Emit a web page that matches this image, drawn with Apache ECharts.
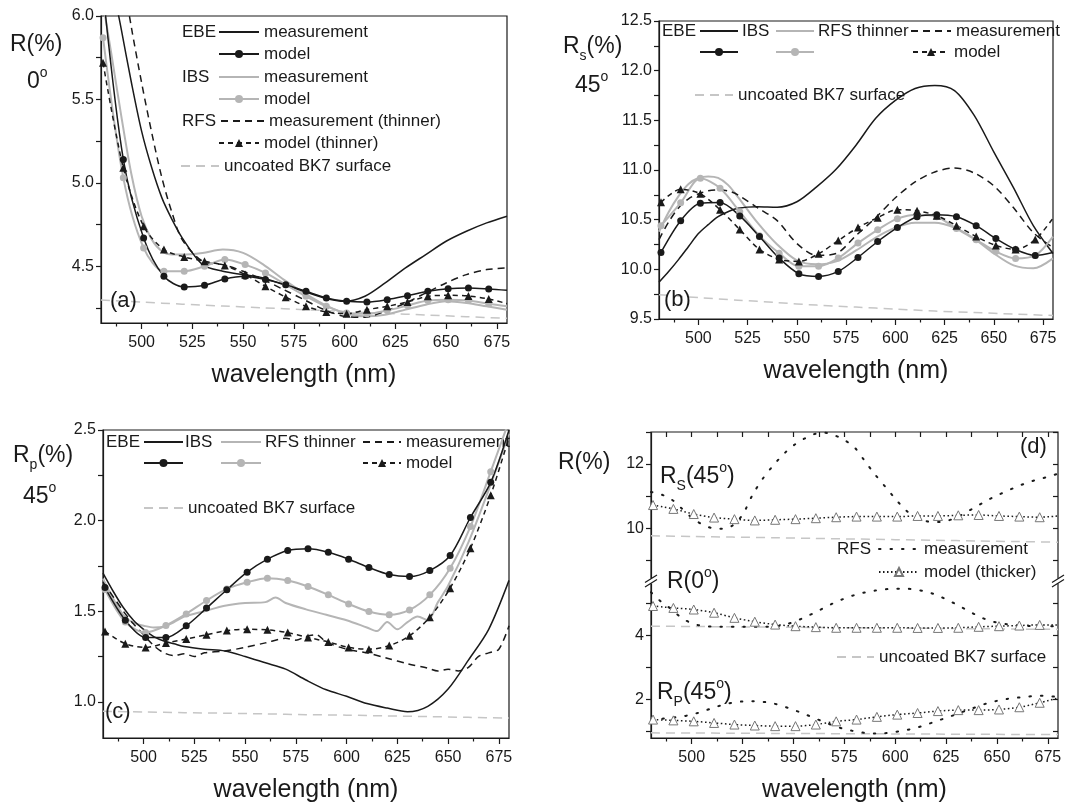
<!DOCTYPE html>
<html>
<head>
<meta charset="utf-8">
<script src="https://cdn.jsdelivr.net/npm/echarts@6/dist/echarts.min.js"></script>
<style>
  html, body { margin: 0; background: #fff; }
  #chart { width: 1079px; height: 806px; }
</style>
</head>
<body>
<div id="chart"></div>
<script>
// ---- wavelength grids (nm) ----
const wlA = [480,485,490,495,500,505,510,515,520,530,540,550,560,570,580,590,600,610,620,630,640,650,660,670,680];
const wlModel = [481,491,501,511,521,531,541,551,561,571,581,591,601,611,621,631,641,651,661,671,680];
const wlBK = [480,500,520,540,560,580,600,620,640,660,680];
const wlIbsC = [480,485,490,495,500,505,510,515,520,530,540,550,560,565,570,580,590,600,610,615,620,625,630,635,640,645,650,660,670,680];
const wlRfsC = [480,485,490,495,500,505,510,515,520,525,530,540,550,560,570,575,580,585,590,600,610,620,630,640,645,650,655,660,665,670,675,680];
const wlD = [480,485,490,495,500,505,510,515,520,525,530,535,540,545,550,555,560,565,570,575,580,585,590,595,600,605,610,615,620,625,630,635,640,645,650,655,660,665,670,675,680];

// ---- (a) R(%) at 0 deg ----
const ebeMeasA = [6.9,6.25,5.92,5.6,5.31,5.09,4.91,4.78,4.67,4.51,4.47,4.45,4.43,4.39,4.35,4.31,4.29,4.32,4.40,4.49,4.57,4.65,4.71,4.76,4.80];
const ibsMeasA = [6.15,5.78,5.4,5.05,4.8,4.66,4.59,4.57,4.57,4.58,4.60,4.58,4.51,4.42,4.34,4.27,4.22,4.20,4.21,4.24,4.27,4.29,4.28,4.26,4.24];
const rfsMeasA = [7.5,6.8,6.3,5.93,5.6,5.3,5.03,4.82,4.66,4.53,4.51,4.47,4.42,4.36,4.30,4.24,4.20,4.195,4.23,4.28,4.34,4.40,4.45,4.48,4.49];
const ebeModelA = [6.15,5.14,4.67,4.44,4.376,4.386,4.424,4.44,4.42,4.39,4.35,4.31,4.29,4.286,4.30,4.324,4.35,4.366,4.37,4.364,4.356];
const ibsModelA = [5.87,5.03,4.61,4.47,4.47,4.50,4.54,4.51,4.46,4.39,4.32,4.26,4.22,4.215,4.235,4.265,4.295,4.30,4.295,4.275,4.26];
const rfsModelA = [5.72,5.09,4.74,4.60,4.556,4.53,4.505,4.45,4.38,4.315,4.26,4.226,4.216,4.24,4.26,4.286,4.32,4.326,4.322,4.304,4.276];
const bk7A = [4.298,4.285,4.273,4.262,4.251,4.24,4.229,4.218,4.208,4.198,4.188];

// ---- (b) Rs(%) at 45 deg ----
const ebeMeasB = [9.87,9.98,10.10,10.23,10.36,10.45,10.53,10.58,10.615,10.63,10.625,10.68,10.83,11.01,11.25,11.52,11.70,11.82,11.85,11.80,11.55,11.18,10.82,10.44,10.16];
const ibsMeasB = [10.38,10.58,10.74,10.86,10.92,10.935,10.92,10.85,10.73,10.47,10.25,10.09,10.05,10.08,10.19,10.32,10.42,10.47,10.47,10.42,10.31,10.16,10.04,10.01,10.11];
const rfsMeasB = [10.30,10.48,10.62,10.71,10.76,10.79,10.80,10.79,10.75,10.62,10.49,10.26,10.14,10.16,10.34,10.52,10.72,10.88,10.98,11.02,10.97,10.84,10.62,10.37,10.22];
const ebeModelB = [10.17,10.49,10.665,10.672,10.538,10.33,10.113,9.956,9.929,9.979,10.12,10.28,10.42,10.53,10.55,10.53,10.44,10.31,10.20,10.14,10.17];
const ibsModelB = [10.44,10.67,10.916,10.816,10.58,10.337,10.163,10.03,10.03,10.113,10.264,10.398,10.51,10.55,10.53,10.41,10.297,10.18,10.11,10.14,10.33];
const rfsModelB = [10.675,10.806,10.76,10.60,10.40,10.20,10.10,10.08,10.157,10.29,10.42,10.52,10.60,10.59,10.54,10.44,10.33,10.24,10.20,10.30,10.515];
const bk7B = [9.745,9.715,9.69,9.665,9.64,9.62,9.60,9.58,9.565,9.55,9.535];

// ---- (c) Rp(%) at 45 deg ----
const ebeMeasC = [1.71,1.61,1.52,1.45,1.40,1.36,1.335,1.32,1.305,1.29,1.28,1.25,1.215,1.18,1.12,1.066,1.03,0.99,0.965,0.945,0.975,1.07,1.23,1.40,1.67];
const ibsMeasC = [1.68,1.57,1.48,1.435,1.42,1.41,1.415,1.44,1.47,1.50,1.53,1.545,1.55,1.575,1.545,1.51,1.48,1.45,1.41,1.39,1.44,1.40,1.44,1.47,1.45,1.55,1.64,1.88,2.17,2.48];
const rfsMeasC = [1.66,1.58,1.50,1.43,1.37,1.31,1.27,1.255,1.265,1.25,1.27,1.28,1.30,1.325,1.35,1.34,1.36,1.37,1.33,1.29,1.27,1.24,1.21,1.185,1.17,1.18,1.17,1.19,1.25,1.27,1.29,1.42];
const ebeModelC = [1.63,1.45,1.355,1.355,1.419,1.517,1.618,1.715,1.787,1.835,1.844,1.825,1.787,1.741,1.702,1.691,1.724,1.807,2.017,2.211,2.5];
const ibsModelC = [1.62,1.44,1.382,1.421,1.485,1.559,1.623,1.66,1.682,1.669,1.636,1.59,1.54,1.498,1.48,1.507,1.59,1.737,1.967,2.27,2.55];
const rfsModelC = [1.388,1.32,1.30,1.324,1.346,1.37,1.393,1.40,1.397,1.382,1.355,1.33,1.30,1.29,1.31,1.364,1.467,1.627,1.847,2.14,2.46];
const bk7C = [0.947,0.944,0.940,0.937,0.933,0.929,0.926,0.922,0.918,0.914,0.910];

// ---- (d) RFS thicker ----
const rsMeasD = [11.13,11.05,10.9,10.62,10.33,10.12,10.0,9.98,10.08,10.42,11.05,11.55,11.95,12.3,12.58,12.78,12.93,12.98,12.9,12.75,12.52,12.1,11.68,11.3,10.92,10.57,10.33,10.22,10.19,10.22,10.33,10.5,10.68,10.86,11.02,11.16,11.3,11.42,11.52,11.6,11.7];
const r0MeasD = [5.35,5.05,4.82,4.55,4.38,4.30,4.28,4.27,4.27,4.27,4.27,4.27,4.28,4.32,4.42,4.55,4.70,4.86,5.02,5.15,5.26,5.34,5.40,5.44,5.46,5.46,5.43,5.37,5.27,5.13,4.97,4.80,4.63,4.49,4.40,4.35,4.32,4.30,4.29,4.29,4.29];
const rpMeasD = [1.37,1.40,1.43,1.47,1.53,1.62,1.73,1.83,1.90,1.94,1.95,1.93,1.88,1.79,1.68,1.56,1.43,1.30,1.18,1.08,1.01,0.96,0.94,0.95,0.99,1.04,1.11,1.21,1.32,1.43,1.54,1.66,1.77,1.88,1.96,2.02,2.06,2.09,2.12,2.11,2.08];
const rsModelD = [10.72,10.6,10.44,10.33,10.28,10.24,10.26,10.28,10.31,10.34,10.36,10.36,10.36,10.38,10.38,10.40,10.41,10.38,10.36,10.34,10.38];
const r0ModelD = [4.92,4.86,4.81,4.71,4.55,4.43,4.34,4.29,4.26,4.24,4.24,4.24,4.24,4.235,4.235,4.24,4.27,4.29,4.31,4.33,4.33];
const rpModelD = [1.375,1.35,1.32,1.27,1.22,1.19,1.17,1.17,1.22,1.32,1.375,1.46,1.53,1.58,1.64,1.67,1.67,1.69,1.76,1.90,2.05];
const bk7RsD = [9.76,9.74,9.72,9.70,9.68,9.66,9.64,9.62,9.60,9.58,9.56];
const bk7R0D = [4.29,4.28,4.27,4.26,4.25,4.24,4.23,4.22,4.21,4.20,4.19];
const bk7RpD = [0.96,0.955,0.95,0.944,0.939,0.933,0.928,0.922,0.917,0.911,0.906];

// ---- ticks ----
const xMajors = [500,525,550,575,600,625,650,675];
const xMinors = [487.5,512.5,537.5,562.5,587.5,612.5,637.5,662.5];
const yLabelsA = [4.5,5.0,5.5,6.0];
const yTicksA = [4.25,4.5,4.75,5.0,5.25,5.5,5.75,6.0];
const yLabelsB = [9.5,10.0,10.5,11.0,11.5,12.0,12.5];
const yTicksB = [9.5,9.75,10,10.25,10.5,10.75,11,11.25,11.5,11.75,12,12.25,12.5];
const yLabelsC = [1.0,1.5,2.0,2.5];
const yTicksC = [1.0,1.25,1.5,1.75,2.0,2.25,2.5];
const yLabelsD = [2,4,10,12];
const yTicksD = [1,2,3,4,5,9,10,11,12,13];

const FONT = "'Liberation Sans', Arial, Helvetica, sans-serif";
const INK = '#1a1a1a';
const GRAY = '#b5b5b5';
const BKC = '#c6c6c6';

const styles = {
  'EBE measurement': { color: INK, lineStyle: { width: 1.5 }, symbol: 'none' },
  'EBE model': { color: INK, lineStyle: { width: 1.5 }, symbol: 'circle', symbolSize: 7 },
  'IBS measurement': { color: GRAY, lineStyle: { width: 2 }, symbol: 'none' },
  'IBS model': { color: GRAY, lineStyle: { width: 2 }, symbol: 'circle', symbolSize: 7 },
  'RFS measurement': { color: INK, lineStyle: { width: 1.5, type: [7, 5] }, symbol: 'none' },
  'RFS model': { color: INK, lineStyle: { width: 1.5, type: [5, 4] }, symbol: 'triangle', symbolSize: 8 },
  'uncoated BK7 surface': { color: BKC, lineStyle: { width: 1.5, type: [9, 6] }, symbol: 'none' },
  'RFS measurement (thicker)': { color: INK, lineStyle: { width: 2, type: [1.5, 10], cap: 'round' }, symbol: 'none' },
  'RFS model (thicker)': { color: INK, lineStyle: { width: 1.5, type: [1.5, 2.5] }, symbol: 'triangle', symbolSize: 9,
    itemStyle: { color: '#fff', borderColor: '#777', borderWidth: 1 } }
};

function line(name, g, xs, ys, isModel) {
  const s = styles[name];
  const data = xs.map((x, i) => (isModel && i === xs.length - 1) ? { value: [x, ys[i]], symbol: 'none' } : [x, ys[i]]);
  return {
    type: 'line', name, xAxisIndex: g * 2, yAxisIndex: g, data,
    smooth: 0.3, silent: true,
    symbol: s.symbol, symbolSize: s.symbolSize, showSymbol: s.symbol !== 'none',
    lineStyle: Object.assign({ color: s.color }, s.lineStyle),
    itemStyle: Object.assign({ color: s.color }, s.itemStyle || {}),
    z: isModel ? 4 : (s.color === INK ? 3 : 2)
  };
}

function leg(name, text, left, cy, w) {
  const s = styles[name];
  return {
    data: [name], left, top: cy - 9, itemWidth: w, itemHeight: 10, padding: 0,
    selectedMode: false, formatter: () => text,
    itemStyle: s.symbol === 'none' ? { opacity: 0 } : {},
    textStyle: { fontSize: 17, color: INK, fontFamily: FONT, lineHeight: 18 }
  };
}

const RICH = {
  sub: { fontSize: 14, fontFamily: FONT, fill: INK, verticalAlign: 'bottom', lineHeight: 14 },
  sup: { fontSize: 14, fontFamily: FONT, fill: INK, verticalAlign: 'top', lineHeight: 14 }
};
function txt(text, x, cy, size) {
  return {
    type: 'text', x, y: cy, z: 50,
    style: { text, fontSize: size, fontFamily: FONT, fill: INK, align: 'left', verticalAlign: 'middle', lineHeight: 32, rich: RICH }
  };
}

const grids = [
  { left: 101, top: 16, width: 406, height: 307 },
  { left: 659, top: 21, width: 394, height: 298 },
  { left: 103, top: 430, width: 406, height: 308 },
  { left: 651, top: 432, width: 407, height: 306 }
].map(g => Object.assign({ show: true, borderColor: INK, borderWidth: 1.2, backgroundColor: 'transparent' }, g));

const axisLineStyle = { color: INK, width: 1.2 };
const xAxis = [];
grids.forEach((gr, g) => {
  xAxis.push({
    gridIndex: g, type: 'value', min: 480, max: 680, position: 'bottom',
    name: 'wavelength (nm)', nameLocation: 'middle', nameGap: 40,
    nameTextStyle: { fontSize: 25, fontFamily: FONT, color: INK },
    axisLine: { onZero: false, lineStyle: axisLineStyle },
    axisTick: { customValues: xMajors, length: 6, lineStyle: axisLineStyle },
    axisLabel: { customValues: xMajors, fontSize: 16, color: INK, fontFamily: FONT, margin: 12 },
    splitLine: { show: false }
  });
  xAxis.push({
    gridIndex: g, type: 'value', min: 480, max: 680, position: 'bottom',
    axisLine: { show: false, onZero: false },
    axisTick: { customValues: xMinors, length: 3.5, lineStyle: axisLineStyle },
    axisLabel: { show: false }, splitLine: { show: false }
  });
});
// top ticks for panel (d)
xAxis.push({
  gridIndex: 3, type: 'value', min: 480, max: 680, position: 'top',
  axisLine: { show: false, onZero: false },
  axisTick: { inside: true, customValues: xMinors.concat(xMajors), length: 5, lineStyle: axisLineStyle },
  axisLabel: { show: false }, splitLine: { show: false }
});

function yAx(g, min, max, labels, ticks, dec, extra) {
  return Object.assign({
    gridIndex: g, type: 'value', min, max,
    axisLine: { show: true, onZero: false, lineStyle: axisLineStyle },
    axisTick: { show: true, customValues: ticks, length: 5, lineStyle: axisLineStyle },
    axisLabel: { customValues: labels, fontSize: 16, color: INK, fontFamily: FONT, margin: 7,
      formatter: v => v.toFixed(dec) },
    splitLine: { show: false }
  }, extra || {});
}
const dBreaks = [{ start: 5.7, end: 8.35, gap: 0 }];
const yAxis = [
  yAx(0, 4.16, 6.0, yLabelsA, yTicksA, 1),
  yAx(1, 9.5, 12.5, yLabelsB, yTicksB, 1),
  yAx(2, 0.8, 2.5, yLabelsC, yTicksC, 1),
  yAx(3, 0.8, 13, yLabelsD, yTicksD, 0, { breaks: dBreaks, breakArea: { show: false } }),
  {
    gridIndex: 3, type: 'value', min: 0.8, max: 13, position: 'right',
    breaks: dBreaks, breakArea: { show: false },
    axisLine: { show: false }, axisLabel: { show: false }, splitLine: { show: false },
    axisTick: { show: true, inside: true, customValues: yTicksD, length: 5, lineStyle: axisLineStyle }
  }
];

const series = [
  // (a)
  line('uncoated BK7 surface', 0, wlBK, bk7A),
  line('IBS measurement', 0, wlA, ibsMeasA),
  line('IBS model', 0, wlModel, ibsModelA, true),
  line('EBE measurement', 0, wlA, ebeMeasA),
  line('RFS measurement', 0, wlA, rfsMeasA),
  line('EBE model', 0, wlModel, ebeModelA, true),
  line('RFS model', 0, wlModel, rfsModelA, true),
  // (b)
  line('uncoated BK7 surface', 1, wlBK, bk7B),
  line('IBS measurement', 1, wlA, ibsMeasB),
  line('IBS model', 1, wlModel, ibsModelB, true),
  line('EBE measurement', 1, wlA, ebeMeasB),
  line('RFS measurement', 1, wlA, rfsMeasB),
  line('EBE model', 1, wlModel, ebeModelB, true),
  line('RFS model', 1, wlModel, rfsModelB, true),
  // (c)
  line('uncoated BK7 surface', 2, wlBK, bk7C),
  line('IBS measurement', 2, wlIbsC, ibsMeasC),
  line('IBS model', 2, wlModel, ibsModelC, true),
  line('EBE measurement', 2, wlA, ebeMeasC),
  line('RFS measurement', 2, wlRfsC, rfsMeasC),
  line('EBE model', 2, wlModel, ebeModelC, true),
  line('RFS model', 2, wlModel, rfsModelC, true),
  // (d)
  line('uncoated BK7 surface', 3, wlBK, bk7RsD),
  line('uncoated BK7 surface', 3, wlBK, bk7R0D),
  line('uncoated BK7 surface', 3, wlBK, bk7RpD),
  line('RFS measurement (thicker)', 3, wlD, rsMeasD),
  line('RFS measurement (thicker)', 3, wlD, r0MeasD),
  line('RFS measurement (thicker)', 3, wlD, rpMeasD),
  line('RFS model (thicker)', 3, wlModel, rsModelD, true),
  line('RFS model (thicker)', 3, wlModel, r0ModelD, true),
  line('RFS model (thicker)', 3, wlModel, rpModelD, true)
];

const legend = [
  // (a)
  leg('EBE measurement', 'measurement', 218, 32, 40),
  leg('EBE model', 'model', 218, 54, 40),
  leg('IBS measurement', 'measurement', 218, 77, 40),
  leg('IBS model', 'model', 218, 99, 40),
  leg('RFS measurement', 'measurement (thinner)', 220, 121, 43),
  leg('RFS model', 'model (thinner)', 218, 143, 40),
  leg('uncoated BK7 surface', 'uncoated BK7 surface', 180, 166, 38),
  // (b)
  leg('EBE measurement', ' ', 699, 31, 38),
  leg('IBS measurement', ' ', 775, 31, 38),
  leg('RFS measurement', 'measurement', 910, 31, 40),
  leg('EBE model', ' ', 699, 52, 38),
  leg('IBS model', ' ', 775, 52, 38),
  leg('RFS model', 'model', 912, 52, 36),
  leg('uncoated BK7 surface', 'uncoated BK7 surface', 694, 95, 38),
  // (c)
  leg('EBE measurement', ' ', 143, 442, 39),
  leg('IBS measurement', ' ', 220, 442, 40),
  leg('RFS measurement', 'measurement', 362, 442, 38),
  leg('EBE model', ' ', 143, 463, 39),
  leg('IBS model', ' ', 220, 463, 40),
  leg('RFS model', 'model', 362, 463, 38),
  leg('uncoated BK7 surface', 'uncoated BK7 surface', 143, 508, 39),
  // (d)
  leg('RFS measurement (thicker)', 'measurement', 878, 549, 40),
  leg('RFS model (thicker)', 'model (thicker)', 878, 572, 40),
  leg('uncoated BK7 surface', 'uncoated BK7 surface', 836, 657, 37)
];

const graphics = [
  // legend group labels
  txt('EBE', 182, 32, 17), txt('IBS', 182, 77, 17), txt('RFS', 182, 121, 17),
  txt('EBE', 662, 31, 17), txt('IBS', 742, 31, 17), txt('RFS thinner', 818, 31, 17),
  txt('EBE', 106, 442, 17), txt('IBS', 185, 442, 17), txt('RFS thinner', 265, 442, 17),
  txt('RFS', 837, 549, 17),
  // axis titles
  txt('R(%)', 10, 45, 23), txt('0{sup|o}', 27, 82, 23),
  txt('R{sub|s}(%)', 563, 47, 23), txt('45{sup|o}', 575, 86, 23),
  txt('R{sub|p}(%)', 13, 456, 23), txt('45{sup|o}', 23, 497, 23),
  txt('R(%)', 558, 463, 23),
  txt('R{sub|S}(45{sup|o})', 660, 477, 23),
  txt('R(0{sup|o})', 667, 582, 23),
  txt('R{sub|P}(45{sup|o})', 657, 693, 23),
  // panel letters
  txt('(a)', 110, 301, 22), txt('(b)', 664, 300, 22), txt('(c)', 105, 712, 22), txt('(d)', 1020, 447, 22)
];

const chart = echarts.init(document.getElementById('chart'), null, { renderer: 'canvas' });
chart.setOption({
  animation: false,
  backgroundColor: '#fff',
  grid: grids, xAxis, yAxis, legend, series, graphic: graphics
});

// axis-break marks on panel (d)
const yb = chart.convertToPixel({ yAxisIndex: 3 }, 5.7);
const marks = [];
[651, 1058].forEach(x0 => {
  marks.push({ type: 'rect', z: 60, shape: { x: x0 - 5, y: yb - 2.5, width: 10, height: 5 }, style: { fill: '#fff' } });
  marks.push({ type: 'line', z: 61, shape: { x1: x0 - 6, y1: yb + 1.5, x2: x0 + 6, y2: yb - 6 }, style: { stroke: INK, lineWidth: 1.2 } });
  marks.push({ type: 'line', z: 61, shape: { x1: x0 - 6, y1: yb + 6, x2: x0 + 6, y2: yb - 1.5 }, style: { stroke: INK, lineWidth: 1.2 } });
});
chart.setOption({ graphic: graphics.concat(marks) });
</script>
</body>
</html>
